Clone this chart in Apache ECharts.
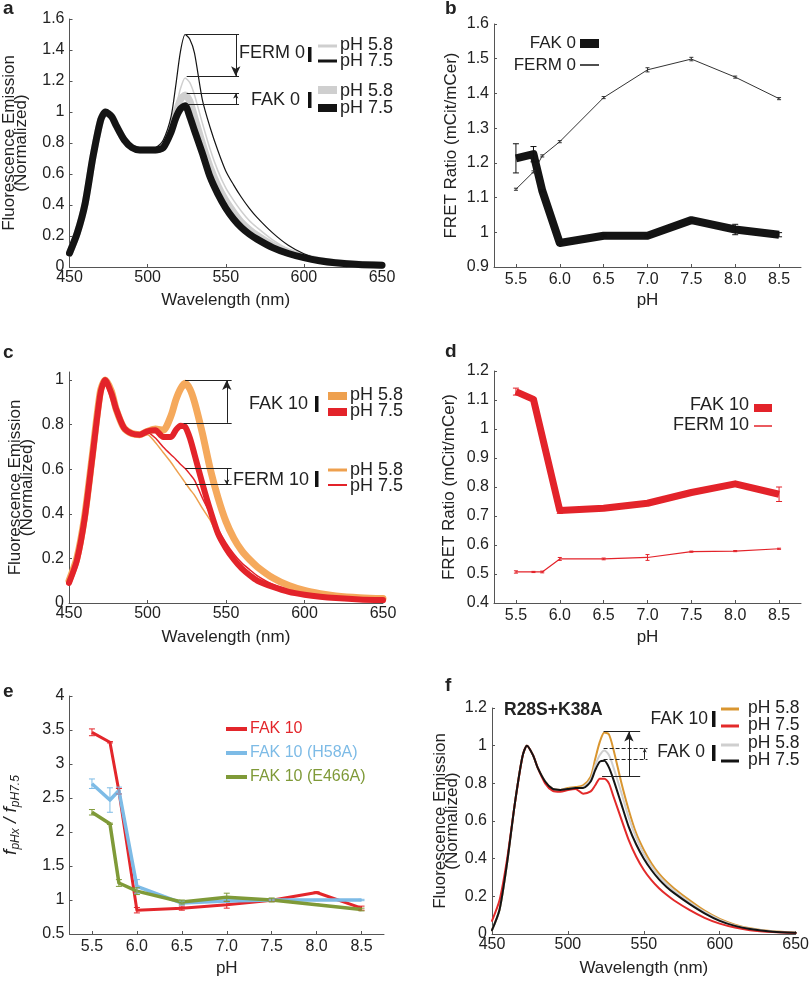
<!DOCTYPE html>
<html><head><meta charset="utf-8">
<script src="https://cdn.jsdelivr.net/npm/echarts@6/dist/echarts.min.js"></script>
<style>html,body{margin:0;padding:0;background:#fff}#c{width:812px;height:981px}</style>
</head><body><div id="c"></div>
<script>
const FONT = '"Liberation Sans", Arial, Helvetica, sans-serif';

// ---------- spectra (panels a, c, f) ----------
const wl = [450,455,460,465,470,473,477,480,485,490,495,500,505,510,515,518,521,524,527,530,535,540,545,550,555,560,565,570,580,590,600,610,620,635,650];

const aFak0_58  = [0.09,0.22,0.41,0.71,0.95,1.00,0.97,0.91,0.82,0.77,0.755,0.755,0.755,0.775,0.88,0.99,1.08,1.11,1.07,0.97,0.80,0.645,0.525,0.43,0.355,0.29,0.243,0.205,0.142,0.098,0.065,0.043,0.029,0.017,0.012];
const aFak0_75  = [0.09,0.22,0.41,0.71,0.95,1.00,0.97,0.91,0.82,0.77,0.755,0.755,0.755,0.77,0.87,0.96,1.02,1.04,0.97,0.88,0.735,0.58,0.47,0.38,0.31,0.255,0.213,0.18,0.125,0.087,0.06,0.04,0.027,0.016,0.012];
const aFerm0_58 = [0.09,0.22,0.41,0.71,0.95,1.00,0.97,0.91,0.82,0.77,0.76,0.76,0.76,0.79,0.90,1.02,1.15,1.22,1.19,1.11,0.93,0.76,0.62,0.51,0.43,0.36,0.30,0.255,0.175,0.115,0.072,0.046,0.029,0.016,0.012];
const aFerm0_75 = [0.09,0.22,0.41,0.71,0.95,1.00,0.97,0.91,0.82,0.77,0.76,0.76,0.77,0.82,0.97,1.17,1.39,1.50,1.47,1.38,1.08,0.90,0.75,0.62,0.53,0.45,0.38,0.32,0.22,0.14,0.085,0.05,0.03,0.015,0.01];

const cFak10_58  = [0.10,0.20,0.39,0.67,0.95,1.00,0.95,0.87,0.785,0.76,0.755,0.77,0.78,0.775,0.84,0.91,0.96,0.985,0.96,0.90,0.76,0.60,0.47,0.365,0.29,0.235,0.195,0.162,0.112,0.078,0.056,0.042,0.032,0.024,0.02];
const cFak10_75  = [0.09,0.19,0.38,0.66,0.94,1.00,0.94,0.87,0.785,0.76,0.755,0.77,0.775,0.745,0.745,0.775,0.795,0.79,0.74,0.665,0.535,0.415,0.31,0.245,0.195,0.155,0.125,0.10,0.072,0.05,0.037,0.028,0.022,0.016,0.013];
const cFerm10_58 = [0.10,0.20,0.39,0.67,0.95,1.00,0.95,0.87,0.785,0.76,0.755,0.755,0.72,0.675,0.63,0.60,0.57,0.54,0.51,0.483,0.424,0.37,0.30,0.25,0.205,0.165,0.135,0.11,0.077,0.053,0.04,0.03,0.022,0.015,0.01];
const cFerm10_75 = [0.09,0.19,0.38,0.66,0.94,1.00,0.95,0.87,0.785,0.76,0.755,0.765,0.74,0.70,0.665,0.645,0.622,0.603,0.578,0.55,0.47,0.40,0.33,0.27,0.22,0.18,0.15,0.122,0.083,0.06,0.045,0.032,0.024,0.016,0.012];

const fFak0_58  = [0.02,0.13,0.38,0.69,0.94,1.00,0.95,0.885,0.81,0.77,0.765,0.77,0.775,0.78,0.82,0.895,0.95,0.975,0.95,0.885,0.755,0.62,0.51,0.425,0.36,0.307,0.265,0.23,0.17,0.117,0.075,0.046,0.028,0.013,0.006];
const fFak0_75  = [0.02,0.13,0.38,0.69,0.94,1.00,0.95,0.885,0.81,0.77,0.765,0.77,0.775,0.775,0.81,0.87,0.915,0.92,0.885,0.82,0.695,0.57,0.475,0.40,0.34,0.29,0.25,0.217,0.16,0.11,0.07,0.043,0.026,0.012,0.006];
const fFak10_58 = [0.02,0.13,0.38,0.69,0.94,1.00,0.95,0.885,0.81,0.77,0.765,0.775,0.78,0.79,0.836,0.93,1.02,1.07,1.06,0.98,0.81,0.66,0.534,0.446,0.375,0.32,0.277,0.242,0.18,0.124,0.08,0.05,0.03,0.014,0.007];
const fFak10_75 = [0.07,0.18,0.40,0.69,0.94,1.00,0.95,0.885,0.80,0.76,0.755,0.765,0.77,0.745,0.757,0.79,0.825,0.825,0.80,0.73,0.614,0.50,0.41,0.34,0.286,0.243,0.208,0.178,0.128,0.086,0.055,0.034,0.02,0.01,0.005];

// ---------- pH series (panels b, d, e) ----------
const phAll = [5.5,5.7,5.8,6.0,6.5,7.0,7.5,8.0,8.5];
const bFak0     = [1.213,1.225,1.12,0.969,0.99,0.99,1.035,1.008,0.993];
const bFak0Err  = [0.042,0.022,0.003,0.004,0.003,0.003,0.004,0.015,0.006];
const bFerm0    = [1.124,1.174,1.22,1.261,1.388,1.468,1.499,1.447,1.385];
const bFerm0Err = [0.003,0.003,0.003,0.003,0.003,0.006,0.005,0.003,0.003];

const phD10      = [5.5,5.7,6.0,6.5,7.0,7.5,8.0,8.5];
const dFak10     = [1.129,1.102,0.719,0.727,0.744,0.781,0.811,0.775];
const dFak10Err  = [0.012,0.004,0.01,0.004,0.004,0.004,0.005,0.025];
const dFerm10    = [0.507,0.507,0.507,0.552,0.552,0.557,0.577,0.579,0.587];
const dFerm10Err = [0.004,0.002,0.003,0.005,0.003,0.01,0.002,0.002,0.002];

const eFak10       = [3.466,3.32,2.6,0.85,0.88,0.93,0.995,1.11,0.88];
const eFak10Err    = [0.05,0.01,0.04,0.04,0.03,0.05,0.01,0.01,0.03];
const eH58A        = [2.71,2.47,2.61,1.2,0.955,0.985,1.0,1.0,1.0];
const eH58AErr     = [0.07,0.18,0.05,0.1,0.03,0.02,0.01,0.01,0.01];
const eE466A       = [2.29,2.12,1.25,1.13,0.97,1.04,1.0,0.93,0.86];
const eE466AErr    = [0.04,0.01,0.05,0.05,0.03,0.06,0.03,0.01,0.02];

// ---------- ticks ----------
const ticksWl = [450,500,550,600,650];
const ticksPh = [5.5,6.0,6.5,7.0,7.5,8.0,8.5];
const ticksA  = [0,0.2,0.4,0.6,0.8,1,1.2,1.4,1.6];
const ticksB  = [0.9,1,1.1,1.2,1.3,1.4,1.5,1.6];
const ticksC  = [0,0.2,0.4,0.6,0.8,1];
const ticksD  = [0.4,0.5,0.6,0.7,0.8,0.9,1,1.1,1.2];
const ticksE  = [0.5,1,1.5,2,2.5,3,3.5,4];
const ticksF  = [0,0.2,0.4,0.6,0.8,1,1.2];

// ---------- annotation levels ----------
const aFermLevels = [1.50, 1.23];
const aFakLevels  = [1.12, 1.05];
const cFakLevels  = [1.0, 0.808];
const cFermLevels = [0.604, 0.532];
const fFak10Levels = [1.075, 0.835];
const fFak0Levels  = [0.985, 0.928];

// ---------- colours ----------
const BLACK='#141414', GRAY='#cfcfcf', RED='#e3232a', ORANGE='#f5a95c', ORANGE_T='#eea04e',
      E_RED='#e3262b', E_BLUE='#7dbbe6', E_GREEN='#7f9a38', F_ORANGE='#d99630', F_RED='#e32a2a';

const numFmt = v => String(+(+v).toFixed(2));
const ph1 = v => (+v).toFixed(1);

function xAx(gi, min, max, ticks, fmt, name, gap, margin){
  return {type:'value', gridIndex:gi, min, max, name, nameLocation:'middle', nameGap:gap,
    nameTextStyle:{color:'#222', fontSize:17, fontFamily:FONT},
    axisLine:{show:true, onZero:false, lineStyle:{color:'#555', width:1}},
    axisTick:{show:true, inside:true, length:3, customValues:ticks, lineStyle:{color:'#555'}},
    axisLabel:{customValues:ticks, formatter:fmt, color:'#222', fontSize:16, fontFamily:FONT, margin},
    splitLine:{show:false}};
}
function yAx(gi, min, max, ticks, name, gap, nameStyle){
  return {type:'value', gridIndex:gi, min, max, name, nameLocation:'middle', nameGap:gap, nameRotate:90,
    nameTextStyle:Object.assign({color:'#222', fontSize:17, fontFamily:FONT}, nameStyle||{}),
    axisLine:{show:true, onZero:false, lineStyle:{color:'#555', width:1}},
    axisTick:{show:true, inside:true, length:3, customValues:ticks, lineStyle:{color:'#555'}},
    axisLabel:{customValues:ticks, formatter:numFmt, color:'#222', fontSize:16, fontFamily:FONT, margin:5},
    splitLine:{show:false}};
}

function spec(gi, ys, color, width){
  return {type:'line', xAxisIndex:gi, yAxisIndex:gi, data: wl.map((x,i)=>[x, ys[i]]),
    showSymbol:false, symbol:'none', smooth:0.25, silent:true, animation:false,
    lineStyle:{color, width, cap:'round', join:'round'}};
}
function phLine(gi, xs, ys, color, width){
  return {type:'line', xAxisIndex:gi, yAxisIndex:gi, data: xs.map((x,i)=>[x, ys[i]]),
    showSymbol:false, symbol:'none', silent:true, animation:false,
    lineStyle:{color, width, cap:'butt', join:'round'}};
}
function errBars(gi, xs, ys, es, color, cap){
  return {type:'custom', xAxisIndex:gi, yAxisIndex:gi, silent:true, animation:false, z:5,
    data: xs.map((x,i)=>[x, ys[i]-es[i], ys[i]+es[i]]),
    renderItem:(p, api)=>{
      const x=api.value(0);
      const a=api.coord([x, api.value(1)]), b=api.coord([x, api.value(2)]);
      const st={stroke:color, lineWidth:1};
      return {type:'group', children:[
        {type:'line', shape:{x1:a[0],y1:a[1],x2:b[0],y2:b[1]}, style:st},
        {type:'line', shape:{x1:a[0]-cap,y1:a[1],x2:a[0]+cap,y2:a[1]}, style:st},
        {type:'line', shape:{x1:b[0]-cap,y1:b[1],x2:b[0]+cap,y2:b[1]}, style:st}]};
    }};
}
function hseg(x1, x2, y, dashed){
  return [{coord:[x1,y], symbol:'none', lineStyle:{type: dashed?'dashed':'solid'}}, {coord:[x2,y], symbol:'none'}];
}
function arrow(x, yFrom, yTo, size){
  return [{coord:[x,yFrom], symbol:'none'}, {coord:[x,yTo], symbol:'arrow', symbolSize:size}];
}
function annot(gi, items){
  return {type:'line', xAxisIndex:gi, yAxisIndex:gi, data:[], silent:true, animation:false, z:6,
    markLine:{silent:true, animation:false, symbol:'none', label:{show:false},
      lineStyle:{color:'#222', width:1, type:'solid'}, emphasis:{disabled:true}, data:items}};
}

// ---------- legend / label graphics ----------
function T(x, y, s, o){
  o=o||{};
  return {type:'text', x, y, silent:true, style:{text:s, fill:o.fill||'#222', fontSize:o.size||18, fontFamily:FONT,
    fontWeight:o.weight||'normal', align:o.align||'left', verticalAlign:o.va||'middle'}};
}
function L(x1, x2, y, color, w){ return {type:'line', silent:true, shape:{x1, y1:y, x2, y2:y}, style:{stroke:color, lineWidth:w}}; }
function R(x, y, w, h, color){ return {type:'rect', silent:true, shape:{x, y, width:w, height:h}, style:{fill:color}}; }

const graphics = [
  T(3, 9, 'a', {weight:'bold', size:19}), T(445, 9, 'b', {weight:'bold', size:19}),
  T(3, 353, 'c', {weight:'bold', size:19}), T(445, 352, 'd', {weight:'bold', size:19}),
  T(3, 692, 'e', {weight:'bold', size:19}), T(445, 686, 'f', {weight:'bold', size:19}),
  T(504, 710, 'R28S+K38A', {weight:'bold', size:17.5}),
  // panel a legend
  T(305, 53, 'FERM 0', {align:'right'}), R(308, 47, 3.5, 15, '#111'),
  L(318, 337, 46, GRAY, 3), L(318, 337, 61, BLACK, 3),
  T(340, 45, 'pH 5.8'), T(340, 61, 'pH 7.5'),
  T(300, 100, 'FAK 0', {align:'right'}), R(308, 92, 3.5, 16, '#111'),
  R(318, 86, 19, 8, GRAY), R(318, 104, 19, 8, BLACK),
  T(340, 91, 'pH 5.8'), T(340, 108, 'pH 7.5'),
  // panel b legend
  T(576, 43, 'FAK 0', {align:'right', size:17}), R(580, 39, 19, 9, BLACK),
  T(576, 65, 'FERM 0', {align:'right', size:17}), L(580, 599, 65, BLACK, 1.5),
  // panel c legend
  T(308, 404, 'FAK 10', {align:'right'}), R(315, 396, 3.5, 16, '#111'),
  R(328, 392, 19, 8, ORANGE_T), R(328, 408, 19, 8, RED),
  T(350, 395, 'pH 5.8'), T(350, 411, 'pH 7.5'),
  T(309, 480, 'FERM 10', {align:'right'}), R(315, 471, 3.5, 16, '#111'),
  L(328, 347, 470, ORANGE_T, 3), L(328, 347, 485, RED, 2),
  T(350, 470, 'pH 5.8'), T(350, 486, 'pH 7.5'),
  // panel d legend
  T(749, 405, 'FAK 10', {align:'right'}), R(754, 404, 18, 8, RED),
  T(749, 425, 'FERM 10', {align:'right'}), L(754, 772, 426, RED, 1.5),
  // panel e legend
  L(226, 247, 729, E_RED, 4), T(250, 729, 'FAK 10', {fill:E_RED, size:16}),
  L(226, 247, 753, E_BLUE, 4), T(250, 753, 'FAK 10 (H58A)', {fill:E_BLUE, size:16}),
  L(226, 247, 777, E_GREEN, 4), T(250, 777, 'FAK 10 (E466A)', {fill:E_GREEN, size:16}),
  // panel f legend
  T(708, 719, 'FAK 10', {align:'right', size:17.5}), R(712, 711, 3.5, 16, '#111'),
  L(721, 739, 709, F_ORANGE, 3), L(721, 739, 726, F_RED, 3),
  T(748, 708, 'pH 5.8', {size:17.5}), T(748, 725, 'pH 7.5', {size:17.5}),
  T(705, 752, 'FAK 0', {align:'right', size:17.5}), R(712, 745, 3.5, 16, '#111'),
  L(721, 739, 745, GRAY, 3), L(721, 739, 761, BLACK, 3),
  T(748, 743, 'pH 5.8', {size:17.5}), T(748, 760, 'pH 7.5', {size:17.5})
];

const option = {
  backgroundColor:'#fff',
  animation:false,
  textStyle:{fontFamily:FONT},
  grid:[
    {left:68, top:19, width:314, height:248},
    {left:494, top:24, width:307, height:243},
    {left:69, top:372, width:314, height:231},
    {left:494, top:371, width:307, height:232},
    {left:68, top:696, width:316, height:238},
    {left:492, top:708, width:312, height:226}
  ],
  xAxis:[
    xAx(0, 450, 650, ticksWl, numFmt, 'Wavelength (nm)', 25, 3),
    xAx(1, 5.25, 8.75, ticksPh, ph1, 'pH', 25, 5),
    xAx(2, 450, 650, ticksWl, numFmt, 'Wavelength (nm)', 26, 3),
    xAx(3, 5.25, 8.75, ticksPh, ph1, 'pH', 26, 5),
    xAx(4, 5.25, 8.75, ticksPh, ph1, 'pH', 26, 5),
    xAx(5, 450, 650, ticksWl, numFmt, 'Wavelength (nm)', 26, 3)
  ],
  yAxis:[
    yAx(0, 0, 1.6, ticksA, 'Fluorescence Emission\n(Normalized)', 42, {lineHeight:12}),
    yAx(1, 0.9, 1.6, ticksB, 'FRET Ratio (mCit/mCer)', 34),
    yAx(2, 0, 1.036, ticksC, 'Fluorescence Emission\n(Normalized)', 36, {lineHeight:12}),
    yAx(3, 0.4, 1.2, ticksD, 'FRET Ratio (mCit/mCer)', 36),
    yAx(4, 0.5, 4, ticksE, '{i|f}{s|pHx}{i| / f}{s|pH7.5}', 48, {rich:{
        i:{fontStyle:'italic', fontSize:19, fontFamily:FONT, color:'#222', lineHeight:22},
        s:{fontStyle:'italic', fontSize:12, fontFamily:FONT, color:'#222', verticalAlign:'bottom', lineHeight:12}}}),
    yAx(5, 0, 1.2, ticksF, 'Fluorescence Emission\n(Normalized)', 33, {lineHeight:12})
  ],
  series:[
    spec(0, aFak0_58, GRAY, 7),
    spec(0, aFerm0_58, GRAY, 1.5),
    spec(0, aFerm0_75, BLACK, 1.2),
    spec(0, aFak0_75, BLACK, 7),
    annot(0, [
      hseg(524.5, 558.5, aFermLevels[0]), hseg(525, 558.5, aFermLevels[1]),
      arrow(556.4, aFermLevels[0], aFermLevels[1], [7,10]),
      hseg(525, 558.5, aFakLevels[0]), hseg(525, 558.5, aFakLevels[1]),
      arrow(556.4, aFakLevels[1], aFakLevels[0], [4,5])
    ]),
    phLine(1, phAll, bFerm0, '#333', 1),
    errBars(1, phAll, bFerm0, bFerm0Err, '#333', 2),
    phLine(1, phAll, bFak0, BLACK, 8),
    errBars(1, phAll, bFak0, bFak0Err, '#111', 3),
    spec(2, cFerm10_58, ORANGE_T, 1.5),
    spec(2, cFerm10_75, RED, 1.5),
    spec(2, cFak10_58, ORANGE, 7),
    spec(2, cFak10_75, RED, 6),
    annot(2, [
      hseg(524, 553.6, cFakLevels[0]), hseg(523, 553.6, cFakLevels[1]),
      arrow(550.5, cFakLevels[1], cFakLevels[0], [7,10]),
      hseg(524, 553.6, cFermLevels[0]), hseg(524, 553.6, cFermLevels[1]),
      arrow(550.5, cFermLevels[0], cFermLevels[1], [4,5])
    ]),
    phLine(3, phAll, dFerm10, RED, 1.2),
    errBars(3, phAll, dFerm10, dFerm10Err, RED, 2),
    phLine(3, phD10, dFak10, RED, 7),
    errBars(3, phD10, dFak10, dFak10Err, RED, 3),
    phLine(4, phAll, eFak10, E_RED, 3),
    phLine(4, phAll, eH58A, E_BLUE, 3.5),
    phLine(4, phAll, eE466A, E_GREEN, 3.5),
    errBars(4, phAll, eFak10, eFak10Err, E_RED, 3),
    errBars(4, phAll, eH58A, eH58AErr, E_BLUE, 3),
    errBars(4, phAll, eE466A, eE466AErr, E_GREEN, 3),
    spec(5, fFak10_58, F_ORANGE, 2),
    spec(5, fFak0_58, GRAY, 2),
    spec(5, fFak10_75, F_RED, 2),
    spec(5, fFak0_75, BLACK, 2),
    annot(5, [
      hseg(523.5, 547.6, fFak10Levels[0]), hseg(522.5, 547.6, fFak10Levels[1]),
      arrow(540.2, fFak10Levels[1], fFak10Levels[0], [7,10]),
      hseg(523.5, 552.4, fFak0Levels[0], true), hseg(523.5, 552.4, fFak0Levels[1], true),
      arrow(550.6, fFak0Levels[1], fFak0Levels[0], [3,4])
    ])
  ],
  graphic: graphics
};

const chart = echarts.init(document.getElementById('c'), null, {renderer:'canvas'});
chart.setOption(option);
</script>
</body></html>
